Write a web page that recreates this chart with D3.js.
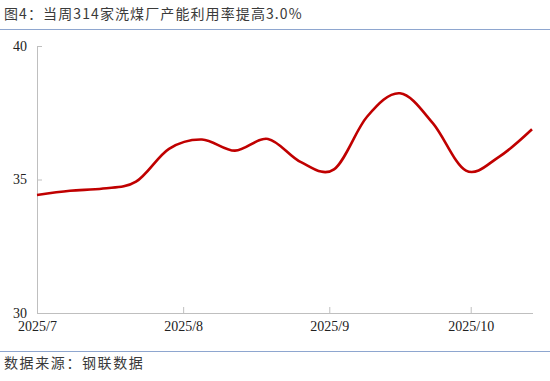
<!DOCTYPE html>
<html>
<head>
<meta charset="utf-8">
<script src="https://cdn.jsdelivr.net/npm/d3@7"></script>
<style>
  body { margin: 0; background: #fff; }
  svg { display: block; }
</style>
</head>
<body>
<div id="chart"></div>
<script>
// weekly readings, capacity utilisation of 314 coal washing plants (%)
var dates = ["2025-07-04", "2025-07-11", "2025-07-18", "2025-07-25", "2025-08-01",
             "2025-08-08", "2025-08-15", "2025-08-22", "2025-08-29", "2025-09-05",
             "2025-09-12", "2025-09-19", "2025-09-26", "2025-10-03", "2025-10-10",
             "2025-10-17"];
var values = [34.42, 34.58, 34.66, 34.92, 36.15,
              36.50, 36.08, 36.52, 35.65, 35.38,
              37.35, 38.23, 37.10, 35.33, 35.85,
              36.88];
var yTicks = [30, 35, 40];
var xTicks = ["2025-07-04", "2025-08-04", "2025-09-04", "2025-10-04"];

var titleText = "图4：当周314家洗煤厂产能利用率提高3.0%";
var sourceText = "数据来源：钢联数据";

var width = 550, height = 381;
var margin = { top: 46, right: 18, bottom: 68, left: 37 };

var parse = d3.timeParse("%Y-%m-%d");
var data = dates.map(function(d, i) {
    return { date: parse(d), value: values[i] };
});

var svg = d3.select("#chart").append("svg")
    .attr("width", width)
    .attr("height", height);

// title and source with the blue rules
svg.append("text")
    .attr("x", 4)
    .attr("y", 19)
    .attr("font-family", "'Noto Sans CJK SC', sans-serif")
    .attr("font-size", 14)
    .attr("letter-spacing", 1.1)
    .attr("fill", "#3a3a3a")
    .text(titleText);

svg.append("line")
    .attr("x1", 0).attr("x2", width)
    .attr("y1", 29.5).attr("y2", 29.5)
    .attr("stroke", "#8ea6cf")
    .attr("stroke-width", 1.2);

svg.append("line")
    .attr("x1", 0).attr("x2", width)
    .attr("y1", 351.5).attr("y2", 351.5)
    .attr("stroke", "#8ea6cf")
    .attr("stroke-width", 1.2);

svg.append("text")
    .attr("x", 4)
    .attr("y", 368)
    .attr("font-family", "'Noto Sans CJK SC', sans-serif")
    .attr("font-size", 14)
    .attr("letter-spacing", 1.6)
    .attr("fill", "#3a3a3a")
    .text(sourceText);

// scales
var x = d3.scaleTime()
    .domain([parse(dates[0]), parse(dates[dates.length - 1])])
    .range([margin.left, width - margin.right]);

var y = d3.scaleLinear()
    .domain([30, 40])
    .range([height - margin.bottom, margin.top]);

var g = svg.append("g");

// y axis
var yAxis = g.append("g")
    .attr("transform", "translate(" + margin.left + ",0)")
    .call(d3.axisRight(y).tickValues(yTicks).tickSize(5).tickFormat(d3.format("d")));
yAxis.select(".domain").attr("stroke", "#bfbfbf").attr("d", "M0.5," + y(30) + "V" + y(40));
yAxis.selectAll(".tick line").attr("stroke", "#bfbfbf");
yAxis.selectAll(".tick text")
    .attr("x", -10)
    .attr("text-anchor", "end")
    .attr("font-family", "'Liberation Serif', 'Times New Roman', serif")
    .attr("font-size", 14)
    .attr("fill", "#222");

// x axis
var xAxis = g.append("g")
    .attr("transform", "translate(0," + y(30) + ")")
    .call(d3.axisTop(x).tickValues(xTicks.map(parse)).tickSize(6).tickFormat(d3.timeFormat("%Y/%-m")));
xAxis.select(".domain").attr("stroke", "#bfbfbf")
    .attr("d", "M" + margin.left + ",0.5H" + (width - margin.right + 1));
xAxis.selectAll(".tick line").attr("stroke", function(d, i) { return i === 0 ? "none" : "#bfbfbf"; });
xAxis.selectAll(".tick text")
    .attr("y", 18)
    .attr("dy", "0")
    .attr("font-family", "'Liberation Serif', 'Times New Roman', serif")
    .attr("font-size", 14)
    .attr("fill", "#222");

// smoothed line
var line = d3.line()
    .x(function(d) { return x(d.date); })
    .y(function(d) { return y(d.value); })
    .curve(d3.curveCatmullRom.alpha(0));

g.append("path")
    .datum(data)
    .attr("fill", "none")
    .attr("stroke", "#c00000")
    .attr("stroke-width", 2.6)
    .attr("stroke-linejoin", "round")
    .attr("d", line);
</script>
</body>
</html>
